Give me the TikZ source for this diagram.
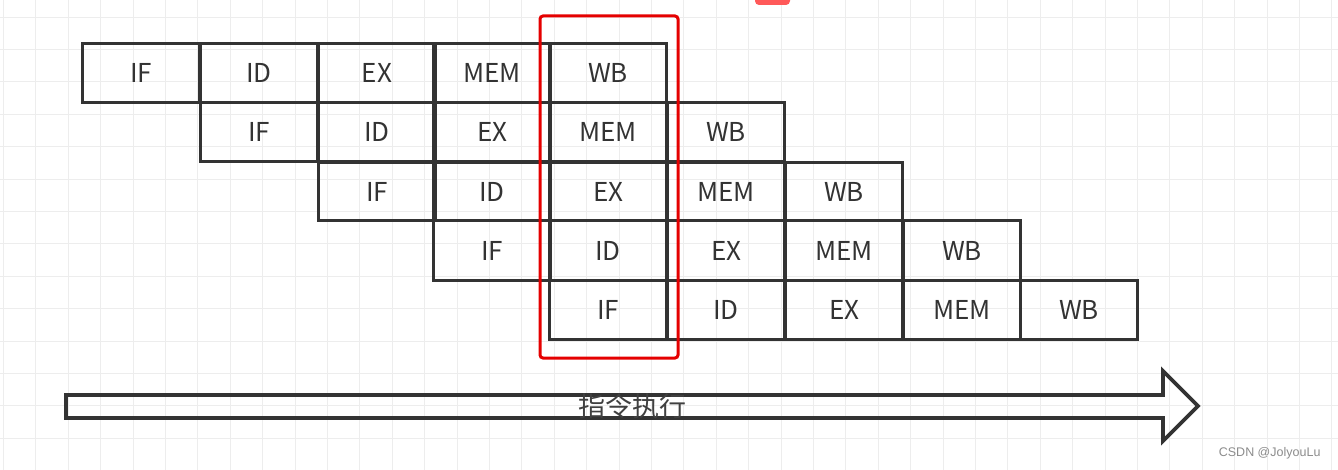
\documentclass[tikz,border=0pt]{standalone}
\usepackage{fontspec}
\setmainfont{Noto Sans CJK SC}
\newfontfamily\wm{Liberation Sans}
\begin{document}
\begin{tikzpicture}[x=1pt,y=-1pt,
  stage/.style={draw=black!80,line width=3.2pt,minimum width=117pt,minimum height=59pt,inner sep=0pt,font=\fontsize{26}{26}\selectfont,text=black!80,anchor=north west}]
\fill[white] (0,0) rectangle (1338,470);
\useasboundingbox (0,0) rectangle (1338,470);
\foreach \i in {0,...,41} {\draw[black!7,line width=0.8pt] (1105-32.4*\i+32.4*7,0) -- ++(0,470);}
\foreach \j in {0,...,15} {\draw[black!7,line width=0.8pt] (0,17+32.4*\j) -- ++(1338,0);}
\fill[red!65,rounded corners=4pt] (755,-10) rectangle (790,5);
\foreach \r/\y/\xs in {1/42/{81,199,317,432,548},2/101/{199,317,432,548,666},3/161/{317,432,548,666,784},4/219/{432,548,666,784,902},5/279/{548,666,784,902,1019}} {
  \foreach \x [count=\k] in \xs {
    \ifcase\k\or\def\lab{IF}\or\def\lab{ID}\or\def\lab{EX}\or\def\lab{MEM}\or\def\lab{WB}\fi
    \node[stage,minimum height={(\r==3 ? 58 : (\r==4 ? 60 : 59))}] (s\r\k) at (\x,\y) {\lab};
  }
}
\draw[red!90!black,line width=3pt,rounded corners=3pt] (540,16) rectangle (678,358);
\draw[black!80,line width=3.8pt,line join=miter] (66,395) -- (1163,395) -- (1163,371) -- (1198,406) -- (1163,441) -- (1163,418) -- (66,418) -- cycle;
\node[font=\fontsize{27}{27}\selectfont,text=black!75] (lbl) at (632,406) {指令执行};
\node[font=\wm\fontsize{12.5}{12.5}\selectfont,text=black!45,anchor=east] (wm) at (1324,453) {CSDN @JolyouLu};
\end{tikzpicture}
\end{document}
